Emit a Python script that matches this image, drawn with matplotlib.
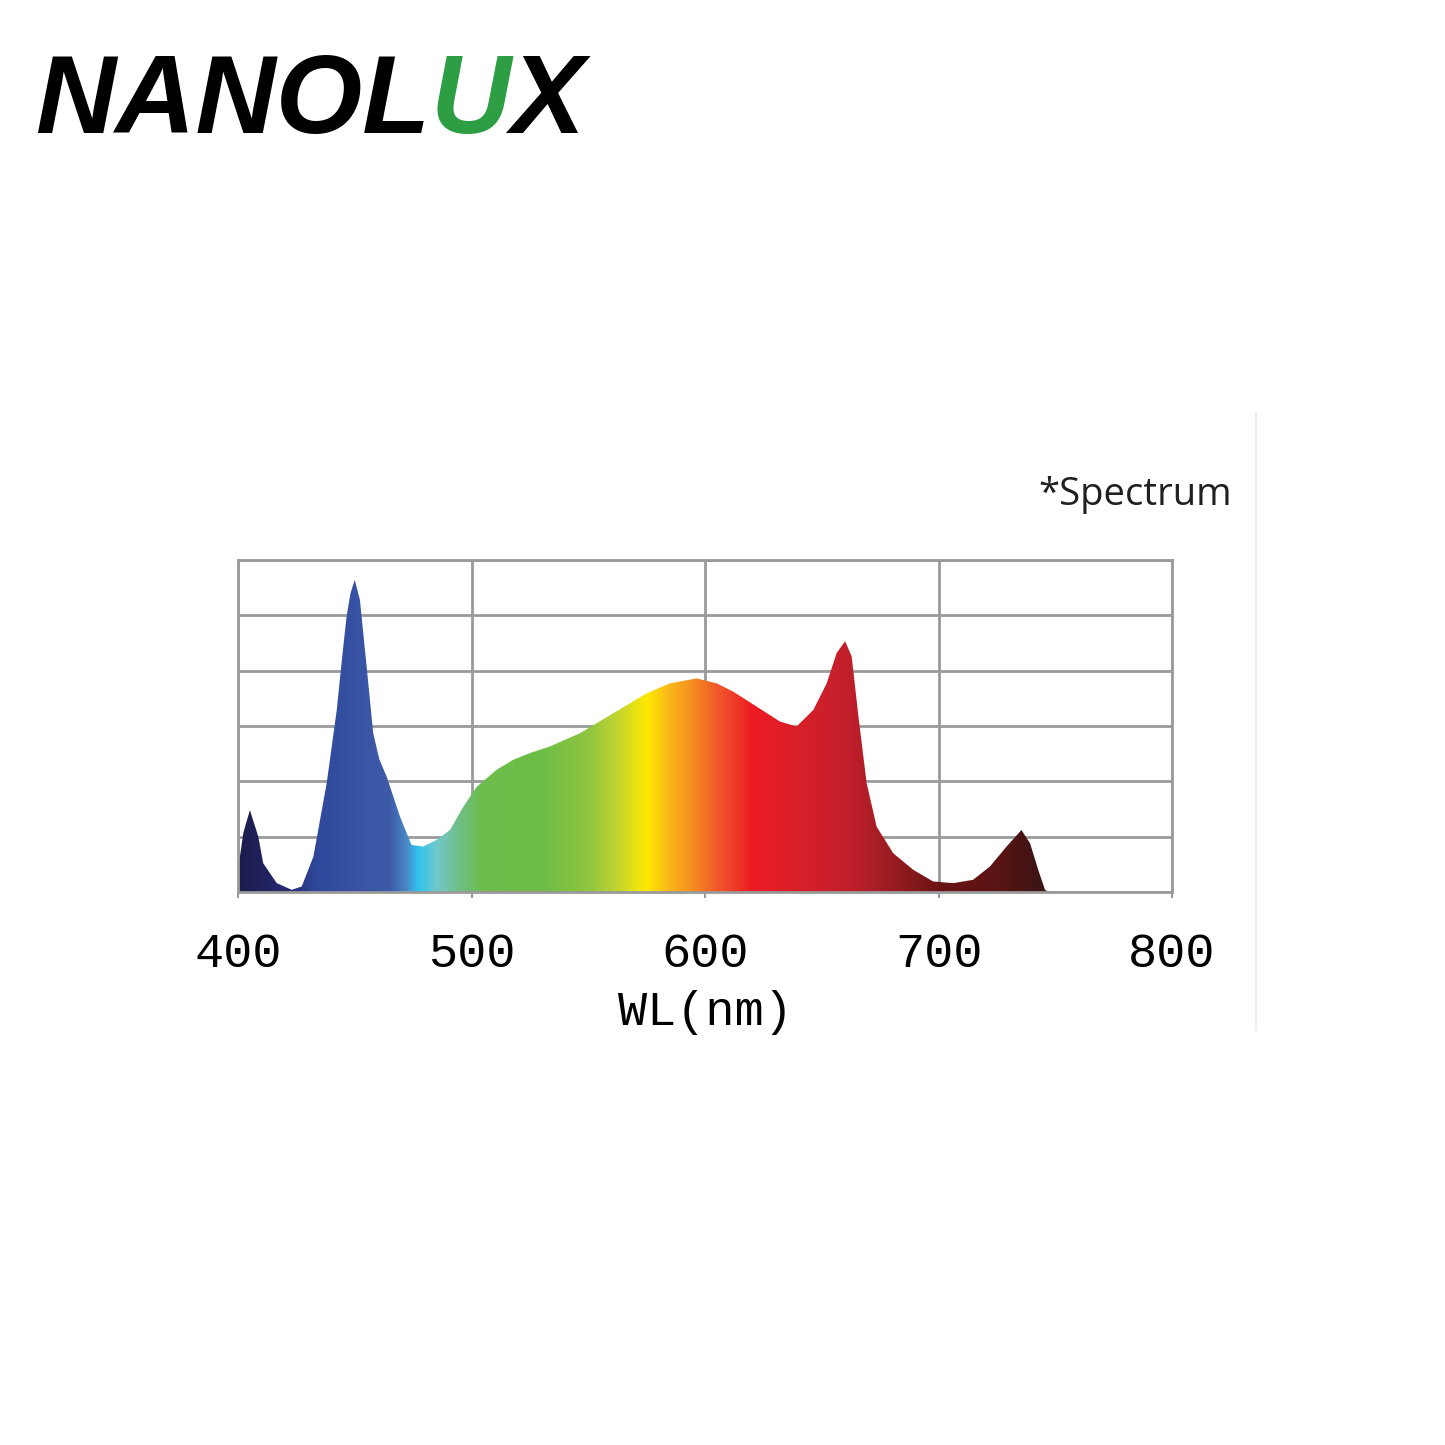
import matplotlib.pyplot as plt
import numpy as np
from matplotlib.colors import LinearSegmentedColormap

# ---- data (wavelength nm, relative intensity in grid units)
wl = [400, 402.3, 405.1, 408.7, 410.8, 416.6, 423.0, 427.3, 432.3, 438.0,
      442.3, 444.5, 446.5, 448.2, 450.0, 452.2, 453.6, 455.1, 457.9, 460.5,
      463.7, 469.4, 474.3, 479.3, 485.0, 490.8, 496.5, 502.2, 510.8, 517.9,
      525.0, 533.6, 546.5, 560.7, 575.0, 585.0, 596.4, 605.0, 612.1, 622.1,
      632.1, 639.2, 646.4, 652.1, 656.4, 660.0, 662.8, 665.7, 669.2, 673.5,
      680.6, 689.2, 697.7, 706.3, 714.8, 722.0, 729.1, 735.5, 739.2, 742.7,
      745.6, 747.0]
intensity = [0.40, 1.07, 1.48, 1.00, 0.52, 0.16, 0.04, 0.10, 0.64, 1.97,
             3.29, 4.20, 4.98, 5.40, 5.64, 5.28, 4.70, 4.07, 2.87, 2.40,
             2.08, 1.36, 0.85, 0.82, 0.94, 1.12, 1.54, 1.90, 2.21, 2.39,
             2.51, 2.63, 2.87, 3.23, 3.59, 3.77, 3.86, 3.77, 3.62, 3.35,
             3.08, 2.99, 3.29, 3.77, 4.32, 4.53, 4.26, 3.17, 1.97, 1.18,
             0.70, 0.40, 0.19, 0.16, 0.22, 0.46, 0.82, 1.12, 0.88, 0.40,
             0.04, 0.0]
xticks = [400, 500, 600, 700, 800]

# ---- wavelength colour stops
stops = [(400, "#1b1a4a"), (420, "#262a70"), (435, "#2f4a9c"), (455, "#3a55a5"),
         (465, "#3d5ca8"), (472, "#4a88c6"), (477, "#2fc4f0"), (485, "#6fc9c9"),
         (494, "#6fbf8a"), (504, "#6cbd4e"), (530, "#6dbd45"), (550, "#8fc540"),
         (562, "#c1d531"), (575, "#ffe900"), (584, "#fbb91a"), (595, "#f58a20"),
         (605, "#f0592a"), (620, "#ec1c24"), (645, "#d2202a"), (662, "#c01f2b"),
         (675, "#a41e24"), (700, "#6a1414"), (725, "#5a1313"), (745, "#3a1515"),
         (800, "#2a1010")]
cmap = LinearSegmentedColormap.from_list(
    "spec", [((w - 400) / 400, c) for w, c in stops], N=1024)

grid_col = "#9a9a9a"

fig = plt.figure(figsize=(14.45, 14.45), dpi=100, facecolor="white")
ax = fig.add_axes([0.1647, 0.3827, 0.6464, 0.2298])

poly = ax.fill_between(wl, intensity, 0, color="none", linewidth=0)
grad = np.linspace(0, 1, 1024).reshape(1, -1)
im = ax.imshow(grad, extent=[400, 800, 0, 6], aspect="auto", cmap=cmap,
               origin="lower", zorder=2)
im.set_clip_path(poly.get_paths()[0], transform=ax.transData)

ax.set_xlim(400, 800)
ax.set_ylim(0, 6)
ax.set_xticks(xticks)
ax.set_yticks(range(7))
ax.grid(True, color=grid_col, linewidth=2.0, zorder=1)
ax.set_axisbelow(True)
ax.set_yticklabels([])
ax.tick_params(axis="y", length=0)
ax.tick_params(axis="x", length=4.5, width=1.5, color=grid_col, pad=24,
               labelsize=35)
for lab in ax.get_xticklabels():
    lab.set_fontfamily("Liberation Mono")
for sp in ax.spines.values():
    sp.set_color(grid_col)
    sp.set_linewidth(2.0)
ax.set_xlabel("WL(nm)", fontfamily="Liberation Mono", fontsize=35, labelpad=10)

# ---- decorations
fig.text(1232 / 1445, 1 - 495 / 1445, "*Spectrum", ha="right", va="center",
         fontsize=27.5, fontfamily="Open Sans", color="#231f20")
fig.add_artist(plt.Line2D([1256 / 1445, 1256 / 1445],
                          [1 - 413 / 1445, 1 - 1030 / 1445],
                          color="#eceeee", linewidth=1.5))

logo_kw = dict(fontsize=80, fontweight="bold", fontstyle="italic",
               fontfamily="Liberation Sans", va="baseline")
t1 = fig.text(35 / 1445, 1 - 133 / 1445, "NANOL", color="black", **logo_kw)
fig.canvas.draw()
bb = t1.get_window_extent()
t2 = fig.text(bb.x1 / 1445, 1 - 133 / 1445, "U", color="#2e9e45", **logo_kw)
fig.canvas.draw()
bb2 = t2.get_window_extent()
fig.text(bb2.x1 / 1445, 1 - 133 / 1445, "X", color="black", **logo_kw)

fig.savefig("out.png", dpi=100, facecolor="white")
